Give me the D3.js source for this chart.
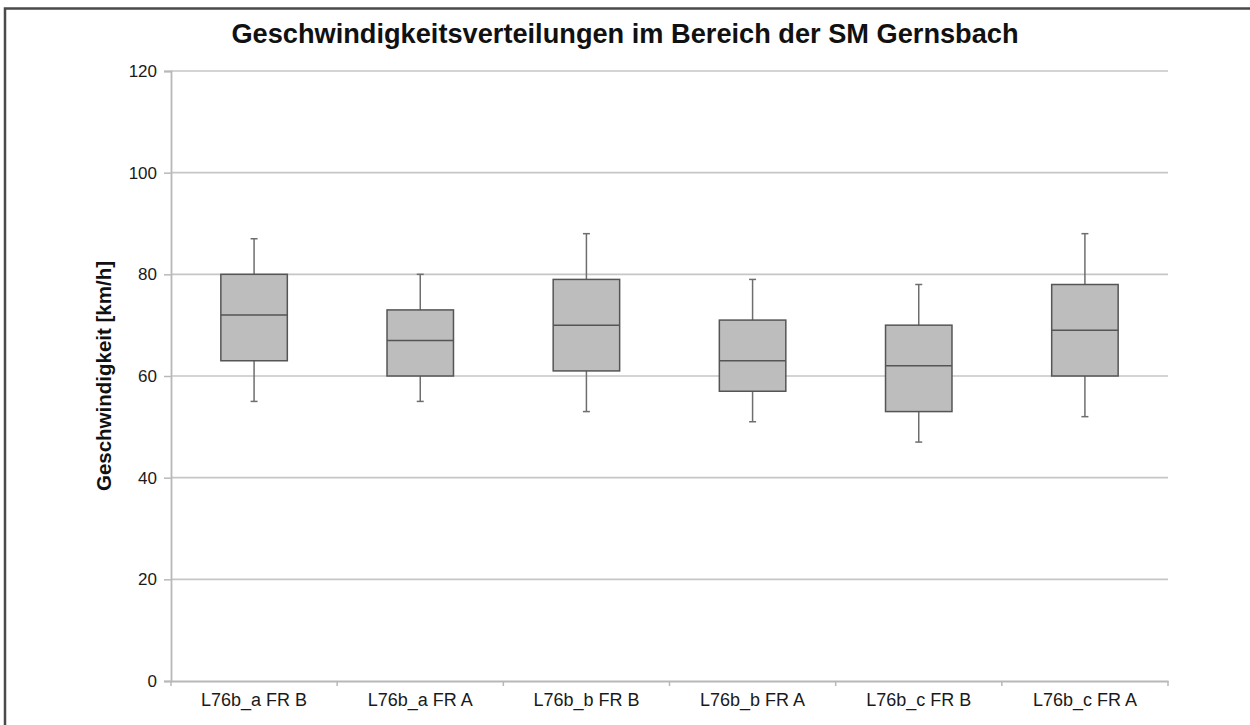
<!DOCTYPE html>
<html><head><meta charset="utf-8">
<script src="https://cdn.jsdelivr.net/npm/d3@7"></script>
<style>body{margin:0;background:#fff;}svg{display:block;}</style>
</head><body>
<script>
const categories = ["L76b_a FR B","L76b_a FR A","L76b_b FR B","L76b_b FR A","L76b_c FR B","L76b_c FR A"];
const whiskerMin = [55,55,53,51,47,52];
const q1 = [63,60,61,57,53,60];
const median = [72,67,70,63,62,69];
const q3 = [80,73,79,71,70,78];
const whiskerMax = [87,80,88,79,78,88];
const yTicks = [0,20,40,60,80,100,120];
const title = "Geschwindigkeitsverteilungen im Bereich der SM Gernsbach";
const yTitle = "Geschwindigkeit [km/h]";

const W = 1250, H = 725;
const m = {left:171, right:1168, top:71, bottom:681};
const svg = d3.select("body").append("svg").attr("width",W).attr("height",H);
svg.append("rect").attr("x",0).attr("y",0).attr("width",W).attr("height",H).attr("fill","#fff");
svg.append("rect").attr("x",5).attr("y",8.5).attr("width",1300).attr("height",800)
  .attr("fill","none").attr("stroke","#4a4a4a").attr("stroke-width",2.5);

const x = d3.scaleBand().domain(categories).range([m.left,m.right]);
const y = d3.scaleLinear().domain([0,120]).range([m.bottom,m.top]);
const font = "Liberation Sans, Arial, sans-serif";

// gridlines
svg.append("g").selectAll("line").data(yTicks.filter(d=>d>0)).join("line")
  .attr("x1",m.left).attr("x2",m.right).attr("y1",d=>y(d)).attr("y2",d=>y(d))
  .attr("stroke","#c6c6c6").attr("stroke-width",1.6);

// y axis
const ya = svg.append("g").attr("transform",`translate(${m.left},0)`)
  .call(d3.axisLeft(y).tickValues(yTicks).tickSize(7).tickPadding(7).tickFormat(d3.format("d")));
ya.select(".domain").attr("stroke","#b8b8b8").attr("stroke-width",1.8);
ya.selectAll(".tick line").attr("stroke","#b8b8b8").attr("stroke-width",1.5);
ya.selectAll("text").attr("font-family",font).attr("font-size",17).attr("fill","#1a1a1a");

// x axis
const xa = svg.append("g").attr("transform",`translate(0,${m.bottom})`)
  .call(d3.axisBottom(x).tickSize(0).tickPadding(12));
xa.select(".domain").attr("stroke","#b8b8b8").attr("stroke-width",1.8);
xa.selectAll("text").attr("font-family",font).attr("font-size",18).attr("fill","#1a1a1a");
const bounds = categories.map(c=>x(c)).concat([m.right]);
svg.append("g").selectAll("line").data(bounds).join("line")
  .attr("x1",d=>d).attr("x2",d=>d).attr("y1",m.bottom).attr("y2",m.bottom+5)
  .attr("stroke","#b8b8b8").attr("stroke-width",1.5);

// boxes
const bw = x.bandwidth()*0.4;
const g = svg.append("g");
categories.forEach((c,i)=>{
  const cx = x(c)+x.bandwidth()/2;
  const gg = g.append("g");
  gg.append("line").attr("x1",cx).attr("x2",cx).attr("y1",y(whiskerMax[i])).attr("y2",y(q3[i]))
    .attr("stroke","#6e6e6e").attr("stroke-width",1.5);
  gg.append("line").attr("x1",cx).attr("x2",cx).attr("y1",y(q1[i])).attr("y2",y(whiskerMin[i]))
    .attr("stroke","#6e6e6e").attr("stroke-width",1.5);
  [whiskerMax[i],whiskerMin[i]].forEach(v=>{
    gg.append("line").attr("x1",cx-3.5).attr("x2",cx+3.5).attr("y1",y(v)).attr("y2",y(v))
      .attr("stroke","#6e6e6e").attr("stroke-width",1.5);
  });
  gg.append("rect").attr("x",cx-bw/2).attr("width",bw).attr("y",y(q3[i])).attr("height",y(q1[i])-y(q3[i]))
    .attr("fill","#bdbdbd").attr("stroke","#555").attr("stroke-width",1.5);
  gg.append("line").attr("x1",cx-bw/2).attr("x2",cx+bw/2).attr("y1",y(median[i])).attr("y2",y(median[i]))
    .attr("stroke","#555").attr("stroke-width",1.5);
});

// titles
svg.append("text").attr("x",625).attr("y",43).attr("text-anchor","middle")
  .attr("font-family",font).attr("font-weight","bold").attr("font-size",27.2).attr("fill","#111").text(title);
svg.append("text").attr("transform",`translate(111,${(m.top+m.bottom)/2}) rotate(-90)`)
  .attr("text-anchor","middle").attr("font-family",font).attr("font-weight","bold")
  .attr("font-size",20.5).attr("fill","#111").text(yTitle);
</script>
</body></html>
